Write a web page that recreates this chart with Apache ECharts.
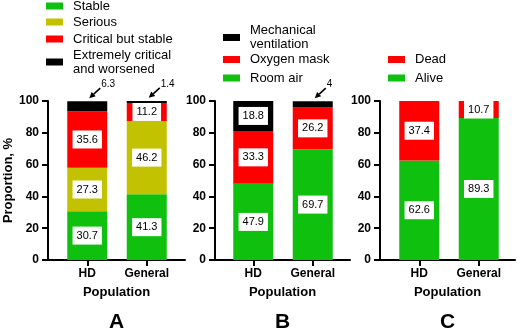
<!DOCTYPE html>
<html><head><meta charset="utf-8">
<script src="https://cdn.jsdelivr.net/npm/echarts@6/dist/echarts.min.js"></script>
<style>html,body{margin:0;padding:0;background:#fff}#c{width:520px;height:332px}</style>
</head><body><div id="c"></div>
<script>
// ---- data ----
const categories = ['HD', 'General'];
// Panel A: clinical status
const stable = [30.7, 41.3];
const serious = [27.3, 46.2];
const criticalStable = [35.6, 11.2];
const extremeCritical = [6.3, 1.4];
// Panel B: oxygen support
const roomAir = [47.9, 69.7];
const oxygenMask = [33.3, 26.2];
const mechVentilation = [18.8, 4];
// Panel C: outcome
const alive = [62.6, 89.3];
const dead = [37.4, 10.7];
const yTicks = [0, 20, 40, 60, 80, 100];
const panelLetters = ['A', 'B', 'C'];
const xAxisTitle = 'Population';
const yAxisTitle = 'Proportion, %';

// ---- styles / layout ----
const FONT = 'Liberation Sans, Arial, sans-serif';
const GREEN = '#0fc00f', OLIVE = '#c2c200', RED = '#ff0000', BLACK = '#000000';
const TOP = 101, HEIGHT = 159;

const panels = [
  { frame: { left: 48, width: 137 }, data: { left: 57.5, width: 119 },
    series: [
      { name: 'Stable', values: stable, color: GREEN },
      { name: 'Serious', values: serious, color: OLIVE },
      { name: 'Critical but stable', values: criticalStable, color: RED },
      { name: 'Extremely critical\nand worsened', values: extremeCritical, color: BLACK }
    ],
    legend: { left: 46, items: [['Stable', -1], ['Serious', 15], ['Critical but stable', 32], ['Extremely critical\nand worsened', 48]] } },
  { frame: { left: 215, width: 135 }, data: { left: 223.5, width: 119 },
    series: [
      { name: 'Room air', values: roomAir, color: GREEN },
      { name: 'Oxygen mask', values: oxygenMask, color: RED },
      { name: 'Mechanical\nventilation', values: mechVentilation, color: BLACK }
    ],
    legend: { left: 223, items: [['Mechanical\nventilation', 23.5], ['Oxygen mask', 52.5], ['Room air', 71]] } },
  { frame: { left: 380, width: 135 }, data: { left: 389.5, width: 119 },
    series: [
      { name: 'Alive', values: alive, color: GREEN },
      { name: 'Dead', values: dead, color: RED }
    ],
    legend: { left: 388, items: [['Dead', 52.5], ['Alive', 71]] } }
];

const grid = [], xAxis = [], yAxis = [], series = [], legend = [];
panels.forEach((p, i) => {
  const fi = 2 * i, di = 2 * i + 1;
  grid.push({ left: p.frame.left, width: p.frame.width, top: TOP, height: HEIGHT });
  grid.push({ left: p.data.left, width: p.data.width, top: TOP, height: HEIGHT });
  // frame axes
  xAxis.push({ gridIndex: fi, type: 'value', min: 0, max: 1,
    axisLine: { show: true, onZero: false, lineStyle: { color: '#000', width: 2 } },
    axisTick: { show: false }, axisLabel: { show: false }, splitLine: { show: false },
    name: xAxisTitle, nameLocation: 'middle', nameGap: 26,
    nameTextStyle: { color: '#000', fontWeight: 'bold', fontSize: 13, fontFamily: FONT } });
  yAxis.push({ gridIndex: fi, type: 'value', min: yTicks[0], max: yTicks[yTicks.length - 1],
    interval: yTicks[1] - yTicks[0],
    axisLine: { show: true, lineStyle: { color: '#000', width: 2 } },
    axisTick: { show: true, length: 6, lineStyle: { color: '#000', width: 2 } },
    axisLabel: { color: '#000', fontWeight: 'bold', fontSize: 12, margin: 9, fontFamily: FONT },
    splitLine: { show: false },
    name: i === 0 ? yAxisTitle : '', nameLocation: 'middle', nameGap: 30,
    nameTextStyle: { color: '#000', fontWeight: 'bold', fontSize: 13, fontFamily: FONT } });
  // data axes
  xAxis.push({ gridIndex: di, type: 'category', data: categories,
    axisLine: { show: false },
    axisTick: { show: true, alignWithLabel: true, length: 6, lineStyle: { color: '#000', width: 2 } },
    axisLabel: { color: '#000', fontWeight: 'bold', fontSize: 12, margin: 8, fontFamily: FONT } });
  yAxis.push({ gridIndex: di, type: 'value', min: yTicks[0], max: yTicks[yTicks.length - 1], show: false });
  p.series.forEach(s => {
    series.push({ type: 'bar', name: s.name, xAxisIndex: di, yAxisIndex: di, stack: 'p' + i,
      barWidth: 40, itemStyle: { color: s.color },
      label: { show: true, position: 'inside', color: '#000', fontSize: 11, fontFamily: FONT,
        backgroundColor: '#fff', padding: [4, 4, 3, 4], formatter: '{c}' },
      data: s.values.map(v => ({ value: v, label: { show: v >= 10 } })) });
  });
  p.legend.items.forEach(([name, top]) => {
    legend.push({ data: [name], left: p.legend.left, top: top, orient: 'vertical', padding: 0,
      icon: 'rect', itemWidth: 17, itemHeight: 7, selectedMode: false,
      textStyle: { color: '#000', fontSize: 13, fontFamily: FONT, lineHeight: 14, padding: [0, 0, 0, 5] } });
  });
});

const chart = echarts.init(document.getElementById('c'), null, { renderer: 'canvas' });
chart.setOption({ animation: false, backgroundColor: '#fff', grid, xAxis, yAxis, series, legend });

// annotations: arrows for small segments, panel letters
const graphics = [];
panels.forEach((p, i) => {
  const di = 2 * i + 1;
  categories.forEach((cat, j) => {
    const total = p.series.reduce((a, s) => a + s.values[j], 0);
    p.series.forEach(s => {
      const v = s.values[j];
      if (v >= 10) return;
      const pt = chart.convertToPixel({ gridIndex: di }, [cat, total]);
      const tip = [pt[0] + 2, pt[1] - 3];
      const tail = [tip[0] + 11, tip[1] - 10];
      const dx = tip[0] - tail[0], dy = tip[1] - tail[1];
      const L = Math.hypot(dx, dy), ux = dx / L, uy = dy / L;
      const hl = 6, hw = 3;
      const base = [tip[0] - ux * hl, tip[1] - uy * hl];
      graphics.push({ type: 'line', shape: { x1: tail[0], y1: tail[1], x2: base[0], y2: base[1] },
        style: { stroke: '#000', lineWidth: 1.6 } });
      graphics.push({ type: 'polygon', shape: { points: [tip,
        [base[0] - uy * hw, base[1] + ux * hw], [base[0] + uy * hw, base[1] - ux * hw]] },
        style: { fill: '#000' } });
      graphics.push({ type: 'text', x: tail[0] + 1, y: tail[1] - 4,
        style: { text: String(v), fill: '#000', font: '10px ' + FONT, textAlign: 'left', textVerticalAlign: 'middle' } });
    });
  });
  graphics.push({ type: 'text', x: p.frame.left + p.frame.width / 2, y: 322,
    style: { text: panelLetters[i], fill: '#000', font: 'bold 21px ' + FONT, textAlign: 'center', textVerticalAlign: 'middle' } });
});
chart.setOption({ graphic: graphics });
</script></body></html>
